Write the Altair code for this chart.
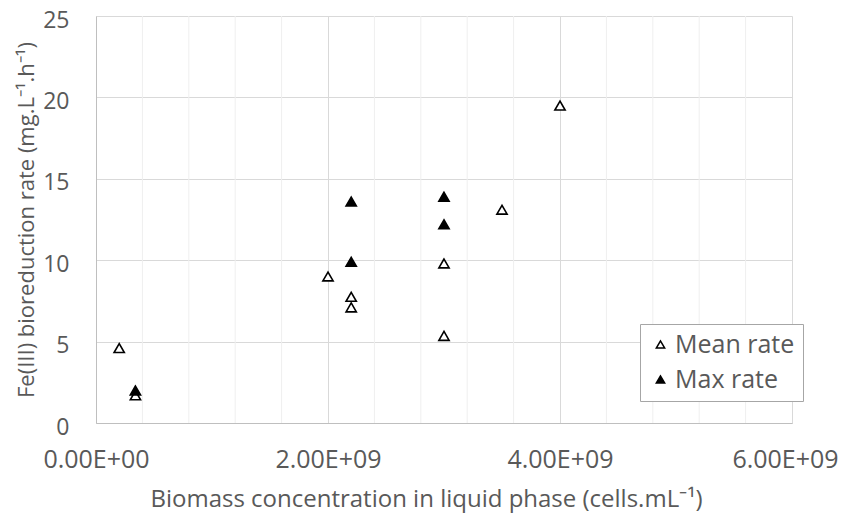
import altair as alt
import pandas as pd

# Data
mean_x = [0.2e9, 0.34e9, 2.0e9, 2.2e9, 2.2e9, 3.0e9, 3.0e9, 3.5e9, 4.0e9]
mean_y = [4.6, 1.7, 9.0, 7.75, 7.1, 9.8, 5.35, 13.1, 19.5]
max_x = [0.34e9, 2.2e9, 2.2e9, 3.0e9, 3.0e9]
max_y = [2.0, 9.9, 13.6, 13.9, 12.2]
series_names = ["Mean rate", "Max rate"]

x_major = [0, 2e9, 4e9, 6e9]
x_minor = [0.4e9, 0.8e9, 1.2e9, 1.6e9, 2.4e9, 2.8e9, 3.2e9, 3.6e9,
           4.4e9, 4.8e9, 5.2e9, 5.6e9]
y_ticks = [0, 5, 10, 15, 20, 25]

df = pd.DataFrame(
    {"x": mean_x + max_x,
     "y": mean_y + max_y,
     "series": [series_names[0]] * len(mean_x) + [series_names[1]] * len(max_x)}
)
minor_df = pd.DataFrame({"x": x_minor})

FONT = "Open Sans"
TXT = "#595959"

xscale = alt.Scale(domain=[0, 6e9], nice=False, zero=True)
yscale = alt.Scale(domain=[0, 25], nice=False)

minor = alt.Chart(minor_df).mark_rule(color="#efefef", strokeWidth=1).encode(
    x=alt.X("x:Q", scale=xscale)
)

points = alt.Chart(df).mark_point(
    shape="triangle-up", filled=True, size=105, stroke="black", strokeWidth=1.6, opacity=1
).encode(
    x=alt.X(
        "x:Q",
        scale=xscale,
        title="Biomass concentration in liquid phase (cells.mL⁻¹)",
        axis=alt.Axis(
            values=x_major,
            labelExpr="datum.value == 0 ? '0.00E+00' : format(datum.value / 1e9, '.2f') + 'E+09'",
            labelFlush=False,
            labelOffset={"condition": {"test": "datum.value >= 6e9", "value": -7}, "value": 0},
            grid=True,
            gridColor="#d9d9d9",
            ticks=False,
            domainColor="#bfbfbf",
            labelPadding=24,
            titlePadding=15,
            titleX=330,
            labelFontSize=25,
            titleFontSize=24,
        ),
    ),
    y=alt.Y(
        "y:Q",
        scale=yscale,
        title="Fe(III) bioreduction rate (mg.L⁻¹.h⁻¹)",
        axis=alt.Axis(
            values=y_ticks,
            grid=True,
            gridColor="#d9d9d9",
            ticks=False,
            domainColor="#bfbfbf",
            labelPadding=27,
            labelOffset=4,
            titlePadding=4,
            labelFontSize=23,
            titleFontSize=22,
        ),
    ),
    fill=alt.Fill(
        "series:N",
        scale=alt.Scale(domain=series_names, range=["white", "black"]),
        sort=series_names,
        legend=alt.Legend(
            title=None,
            orient="none",
            legendX=544,
            legendY=308,
            symbolType="triangle-up",
            symbolSize=70,
            symbolStrokeColor="black",
            symbolStrokeWidth=1.5,
            symbolOffset=0,
            labelFont=FONT,
            labelFontSize=25,
            labelColor=TXT,
            strokeColor="#a6a6a6",
            fillColor="white",
            padding=8,
            rowPadding=9,
            labelOffset=2,
        ),
    ),
    order=alt.Order("series:N", sort="descending"),
)

chart = alt.layer(minor, points).properties(
    width=696,
    height=407,
    autosize=alt.AutoSizeParams(type="none"),
    padding={"left": 88, "top": 8, "right": 50, "bottom": 90},
).configure_view(
    stroke=None
).configure_axis(
    labelFont=FONT,
    labelColor=TXT,
    titleFont=FONT,
    titleColor=TXT,
    titleFontWeight="normal",
)

chart.save("out.html", embed_options={"renderer": "svg", "actions": False})
